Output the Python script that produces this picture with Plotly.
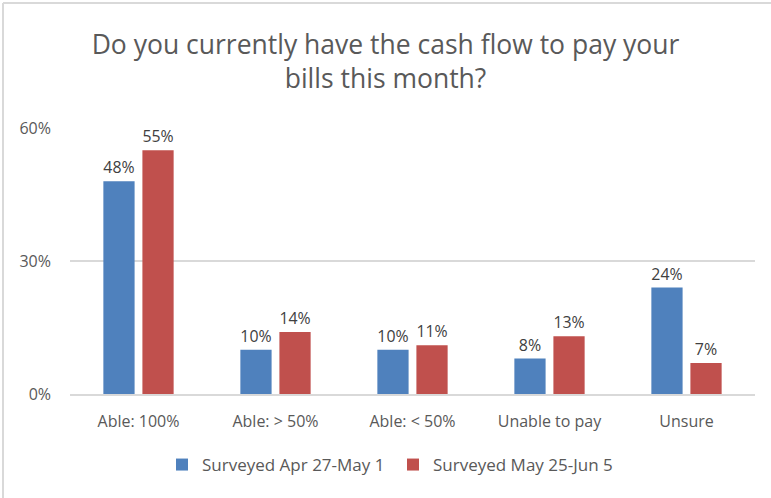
import plotly.graph_objects as go

categories = ["Able: 100%", "Able: > 50%", "Able: < 50%", "Unable to pay", "Unsure"]
series1_name = "Surveyed Apr 27-May 1"
series1 = [48, 10, 10, 8, 24]
series2_name = "Surveyed May 25-Jun 5"
series2 = [55, 14, 11, 13, 7]
y_ticks = [0, 30, 60]
y_tick_labels = ["0%", "30%", "60%"]

FONT = "Open Sans"
fig = go.Figure()
for name, vals, col in [(series1_name, series1, "#4f81bd"), (series2_name, series2, "#c0504d")]:
    fig.add_trace(go.Bar(
        x=categories, y=vals, name=name,
        marker=dict(color=col, line=dict(width=0)),
        text=[f"{v}%" for v in vals], textposition="outside",
        textfont=dict(family=FONT, size=16, color="#404040"),
        cliponaxis=False,
    ))

L, R, T, B = 70, 16, 128, 104
W, H = 771, 498
pw, ph = W - L - R, H - T - B

def px_x(px):
    return (px - L) / pw

def px_y(py):
    return (H - B - py) / ph

fig.update_layout(
    width=W, height=H,
    margin=dict(l=L, r=R, t=T, b=B, pad=0),
    paper_bgcolor="white", plot_bgcolor="white",
    barmode="group", bargap=0.43, bargroupgap=0.2,
    title=dict(text="Do you currently have the cash flow to pay your<br>bills this month?",
               x=0.5, xanchor="center", y=1 - 54 / H, yanchor="middle",
               font=dict(family=FONT, size=26.5, color="#595959")),
    font=dict(family=FONT, size=16, color="#595959"),
    xaxis=dict(showgrid=False, showline=True, linecolor="#d9d9d9", linewidth=1.5,
               ticks="", ticklabelstandoff=12,
               tickfont=dict(family=FONT, size=16, color="#595959")),
    yaxis=dict(range=[0, 60], tickvals=y_ticks, ticktext=y_tick_labels,
               showgrid=True, gridcolor="#d9d9d9", gridwidth=1.5, zeroline=False,
               showline=False, ticks="", ticklabelstandoff=18,
               tickfont=dict(family=FONT, size=16, color="#595959")),
    legend=dict(orientation="h", x=px_x(162), xanchor="left", y=px_y(465), yanchor="middle",
                font=dict(family=FONT, size=17, color="#595959"),
                itemwidth=30, entrywidth=186, traceorder="normal"),
    showlegend=True,
    shapes=[
        dict(type="line", xref="paper", yref="paper", x0=px_x(3), x1=px_x(W + 5), y0=px_y(3), y1=px_y(3),
             line=dict(color="#d9d9d9", width=2)),
        dict(type="line", xref="paper", yref="paper", x0=px_x(3), x1=px_x(3), y0=px_y(3), y1=px_y(H + 5),
             line=dict(color="#d9d9d9", width=2)),
    ],
)

fig.write_html("out.html", config={"displayModeBar": False},
               post_script="document.body.style.margin='0';document.body.style.overflow='hidden';")
